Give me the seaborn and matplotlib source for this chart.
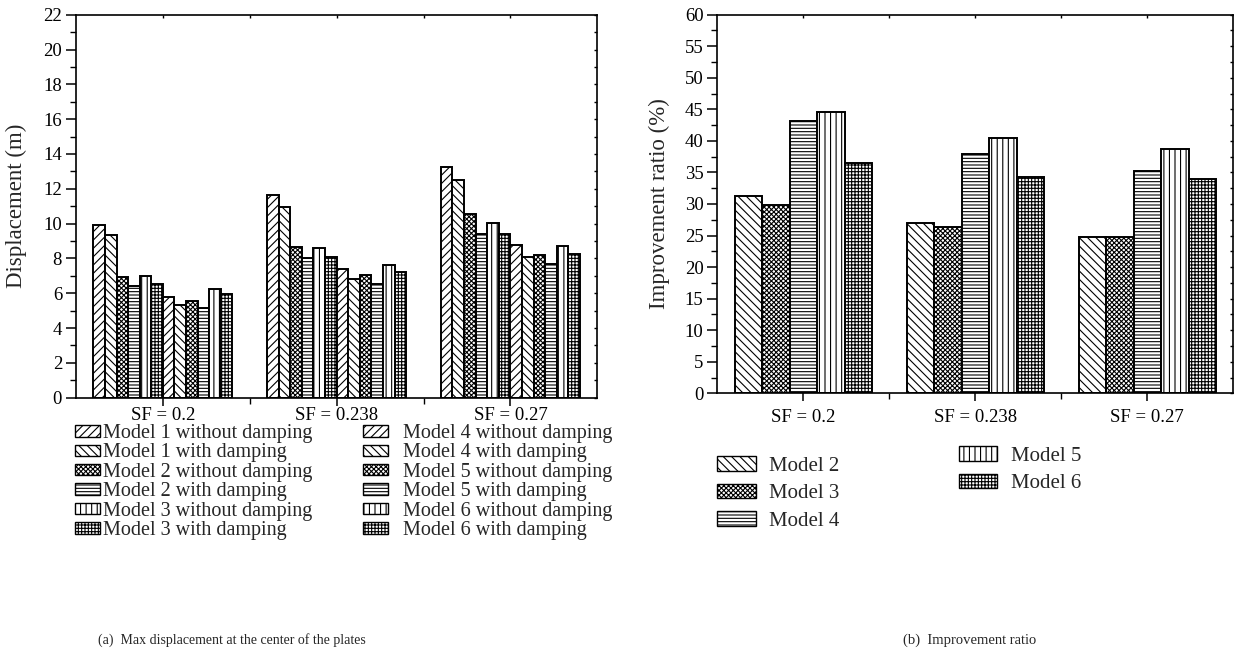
import matplotlib
matplotlib.use("Agg")
import matplotlib.pyplot as plt
from matplotlib.patches import Patch
from matplotlib.ticker import MultipleLocator
import numpy as np
import pandas as pd
import seaborn as sns

# ---------------- data ----------------
categories = ["SF = 0.2", "SF = 0.238", "SF = 0.27"]

disp_series = [
    "Model 1 without damping", "Model 1 with damping",
    "Model 2 without damping", "Model 2 with damping",
    "Model 3 without damping", "Model 3 with damping",
    "Model 4 without damping", "Model 4 with damping",
    "Model 5 without damping", "Model 5 with damping",
    "Model 6 without damping", "Model 6 with damping",
]
m1_wo = [9.94, 11.67, 13.24]
m1_w = [9.36, 10.98, 12.51]
m2_wo = [6.92, 8.63, 10.57]
m2_w = [6.44, 8.02, 9.40]
m3_wo = [6.99, 8.60, 10.03]
m3_w = [6.55, 8.08, 9.42]
m4_wo = [5.77, 7.37, 8.77]
m4_w = [5.31, 6.84, 8.10]
m5_wo = [5.56, 7.03, 8.22]
m5_w = [5.18, 6.55, 7.70]
m6_wo = [6.27, 7.60, 8.71]
m6_w = [5.94, 7.22, 8.27]
disp_values = [m1_wo, m1_w, m2_wo, m2_w, m3_wo, m3_w,
               m4_wo, m4_w, m5_wo, m5_w, m6_wo, m6_w]

ratio_series = ["Model 2", "Model 3", "Model 4", "Model 5", "Model 6"]
r_m2 = [31.3, 27.0, 24.8]
r_m3 = [29.8, 26.4, 24.7]
r_m4 = [43.1, 37.9, 35.2]
r_m5 = [44.6, 40.5, 38.7]
r_m6 = [36.5, 34.3, 33.9]
ratio_values = [r_m2, r_m3, r_m4, r_m5, r_m6]

# hatch patterns (style)
h_fwd, h_back, h_dots, h_horiz, h_vert, h_grid = "////", "\\\\\\\\", "xxxxxxx", "-----", "|||", "+++++"
disp_hatches = [h_fwd, h_back, h_dots, h_horiz, h_vert, h_grid] * 2
ratio_hatches = [h_back, h_dots, h_horiz, h_vert, h_grid]

df1 = pd.DataFrame(
    [(c, s, v[i]) for s, v in zip(disp_series, disp_values) for i, c in enumerate(categories)],
    columns=["SF", "Series", "Displacement"],
)
df2 = pd.DataFrame(
    [(c, s, v[i]) for s, v in zip(ratio_series, ratio_values) for i, c in enumerate(categories)],
    columns=["SF", "Series", "Ratio"],
)

# ---------------- style ----------------
sns.set_theme(style="ticks")
plt.rcParams["font.family"] = ["Liberation Serif", "DejaVu Serif"]
plt.rcParams["hatch.linewidth"] = 0.8
plt.rcParams["hatch.color"] = "black"

W, H = 1236, 658
fig = plt.figure(figsize=(W / 100, H / 100), dpi=100)

ax1 = fig.add_axes([76 / W, 1 - 397.7 / H, (597.3 - 76) / W, (397.7 - 14.7) / H])
ax2 = fig.add_axes([717.3 / W, 1 - 393.3 / H, (1233.3 - 717.3) / W, (393.3 - 14.7) / H])

sns.barplot(data=df1, x="SF", y="Displacement", hue="Series", order=categories,
            hue_order=disp_series, palette=["white"] * len(disp_series),
            saturation=1, edgecolor="black", linewidth=1.4, width=0.8,
            legend=False, ax=ax1, errorbar=None)
sns.barplot(data=df2, x="SF", y="Ratio", hue="Series", order=categories,
            hue_order=ratio_series, palette=["white"] * len(ratio_series),
            saturation=1, edgecolor="black", linewidth=1.4, width=0.8,
            legend=False, ax=ax2, errorbar=None)

for cont, h in zip(ax1.containers, disp_hatches):
    for p in cont.patches:
        p.set_hatch(h)
for cont, h in zip(ax2.containers, ratio_hatches):
    for p in cont.patches:
        p.set_hatch(h)

fs_tick = 13.5
for ax, ymax, major, minor, xpad in [(ax1, 22, 2, 1, 1), (ax2, 60, 5, 2.5, 5)]:
    ax.set_ylim(0, ymax)
    ax.set_xlim(-0.5, 2.5)
    ax.yaxis.set_major_locator(MultipleLocator(major))
    ax.yaxis.set_minor_locator(MultipleLocator(minor))
    ax.set_xticks(range(len(categories)))
    ax.set_xticklabels(categories)
    ax.set_xticks([0.5, 1.5], minor=True)
    ax.set_xlabel("")
    for sp in ax.spines.values():
        sp.set_visible(True)
        sp.set_color("black")
        sp.set_linewidth(1.2)
    ax.tick_params(which="major", direction="out", length=7, width=1.1,
                   labelsize=fs_tick, colors="black", pad=3)
    ax.tick_params(which="minor", direction="out", length=4, width=1.0, colors="black")
    ax.tick_params(axis="x", which="major", length=6, pad=xpad)

    # small inward ticks on the top and right frame lines
    top = ax.secondary_xaxis("top")
    top.set_xticks(range(len(categories)))
    top.set_xticks([0.5, 1.5], minor=True)
    top.tick_params(which="both", direction="in", length=2.5, width=1.0,
                    labeltop=False, colors="black")
    top.spines["top"].set_visible(False)
    right = ax.secondary_yaxis("right")
    right.yaxis.set_major_locator(MultipleLocator(major))
    right.yaxis.set_minor_locator(MultipleLocator(minor))
    right.tick_params(which="both", direction="in", length=2.5, width=1.0,
                      labelright=False, colors="black")
    right.spines["right"].set_visible(False)

ax1.set_ylabel("Displacement (m)", fontsize=16.5)
ax2.set_ylabel("Improvement ratio (%)", fontsize=16.5)
ax1.yaxis.set_label_coords(-0.094, 0.5)
ax2.yaxis.set_label_coords(-0.092, 0.5)

# ---------------- legends ----------------
def make_handles(names, hatches):
    return [Patch(facecolor="white", edgecolor="black", linewidth=1.0, hatch=h, label=n)
            for n, h in zip(names, hatches)]

hd = make_handles(disp_series, disp_hatches)
left_kw = dict(loc="upper left", ncol=1, frameon=False, borderpad=0, borderaxespad=0,
               fontsize=14.5, handlelength=1.25, handleheight=0.5, labelspacing=0.02)
fig.legend(handles=hd[:6], bbox_to_anchor=(75 / W, 1 - 424 / H),
           handletextpad=0.12, **left_kw)
fig.legend(handles=hd[6:], bbox_to_anchor=(363 / W, 1 - 424 / H),
           handletextpad=0.75, **left_kw)

hr = make_handles(ratio_series, ratio_hatches)
right_kw = dict(loc="upper left", ncol=1, frameon=False, borderpad=0, borderaxespad=0,
                fontsize=15, handlelength=1.85, handleheight=0.7, handletextpad=0.65,
                labelspacing=0.38)
fig.legend(handles=hr[:3], bbox_to_anchor=(717 / W, 1 - 456 / H), **right_kw)
fig.legend(handles=hr[3:], bbox_to_anchor=(958.7 / W, 1 - 446 / H), **right_kw)

# ---------------- captions ----------------
fig.text(232 / W, 1 - 640 / H, "(a)  Max displacement at the center of the plates",
         ha="center", va="center", fontsize=10)
fig.text(970 / W, 1 - 640 / H, "(b)  Improvement ratio",
         ha="center", va="center", fontsize=10.5)

fig.savefig("out.png", dpi=100)
